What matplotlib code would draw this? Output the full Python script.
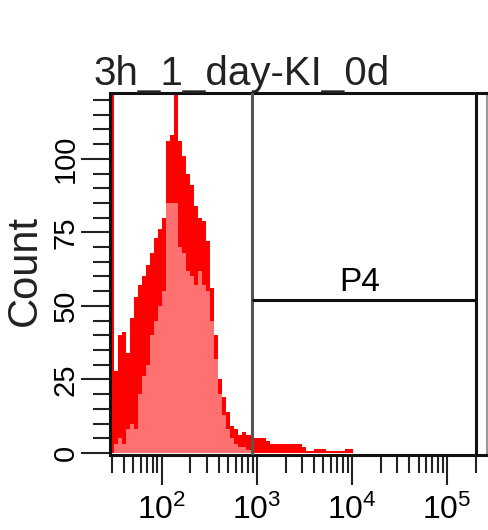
import matplotlib
matplotlib.use('Agg')
import matplotlib.pyplot as plt
import numpy as np
from matplotlib.ticker import LogLocator, FixedLocator, NullFormatter, MultipleLocator

plt.rcParams['font.family'] = ['Liberation Sans', 'DejaVu Sans']
plt.rcParams['mathtext.fontset'] = 'custom'
plt.rcParams['mathtext.rm'] = 'Liberation Sans'
plt.rcParams['mathtext.it'] = 'Liberation Sans'

title = "3h_1_day-KI_0d"
gate_name = "P4"

# histogram: per log-spaced channel group,
# the highest and lowest bin count inside the group
count_max = [300, 28, 40, 41, 34, 46, 53, 57, 60, 64, 68, 73, 76, 80, 106, 108,
             140, 106, 101, 95, 91, 84, 80, 79, 72, 56, 40, 25, 19, 14, 9, 8,
             6, 7, 6, 6, 5, 5, 5, 4, 3, 3, 3, 3, 3, 3, 3, 3,
             2, 0.5, 0.5, 1.5, 1.5, 1.5, 0.5, 0.5, 0.5, 0.5, 0.5, 1.5, 1.5, 0]
count_min = [0, 3, 5, 3, 8, 10, 8, 20, 26, 30, 40, 45, 50, 55, 85, 85,
             85, 70, 68, 62, 60, 57, 62, 57, 55, 45, 32, 20, 13, 8, 5, 3,
             2, 2, 1, 1, 0, 0, 0, 0, 0, 0, 0, 0, 0, 0, 0, 0,
             0, 0, 0, 0, 0, 0, 0, 0, 0, 0, 0, 0, 0, 0]
first_edge_log = 1.4544
bin_width_log = 0.04197

gate_x0, gate_x1 = 880, 201000
gate_y = 52
gate_label_pos = (12000, 55)

x_range = (28.5, 262144)
y_range = (-0.7, 122.4)
y_ticks = [0, 25, 50, 75, 100]
x_ticks = [1e2, 1e3, 1e4, 1e5]
x_ticklabels = ['$10^{2}$', '$10^{3}$', '$10^{4}$', '$10^{5}$']

edges = 10 ** (first_edge_log + bin_width_log * np.arange(len(count_max) + 1))

fig = plt.figure(figsize=(4.89, 5.30), dpi=100)
fig.patch.set_facecolor('white')
ax = fig.add_axes([110 / 489, 1 - 455 / 530, (487 - 110) / 489, (455 - 93) / 530])

ax.stairs(count_min, edges, baseline=0, fill=True, color='#FF7070', lw=0)
ax.stairs(count_max, edges, baseline=count_min, fill=True, color='#FF0000', lw=0)

ax.set_xscale('log')
ax.set_xlim(*x_range)
ax.set_ylim(*y_range)

# gate P4
ax.axvline(gate_x0, color='#555555', lw=2.2, zorder=4)
ax.axvline(gate_x1, color='#111111', lw=2.2, zorder=4)
ax.hlines(gate_y, gate_x0, gate_x1, color='#111111', lw=2.2, zorder=4)
ax.text(*gate_label_pos, gate_name, ha='center', va='baseline', fontsize=24)

# ticks
ax.xaxis.set_major_locator(FixedLocator(x_ticks))
ax.set_xticklabels(x_ticklabels)
ax.xaxis.set_minor_locator(LogLocator(base=10, subs=np.arange(2, 10), numticks=20))
ax.xaxis.set_minor_formatter(NullFormatter())
ax.set_yticks(y_ticks)
ax.yaxis.set_minor_locator(MultipleLocator(5))

ax.tick_params(axis='x', which='major', direction='out', length=21.6, width=1.5,
               labelsize=23, pad=7, color='#222222')
ax.tick_params(axis='x', which='minor', direction='out', length=13, width=1.5,
               color='#222222')
ax.tick_params(axis='y', which='major', direction='out', length=21, width=1.5,
               labelsize=21, pad=1, labelrotation=90, color='#222222')
ax.tick_params(axis='y', which='minor', direction='out', length=12, width=1.5,
               color='#222222')
for lbl in ax.get_yticklabels():
    lbl.set_va('center')

for side in ['top', 'left', 'bottom']:
    ax.spines[side].set_linewidth(2.2)
    ax.spines[side].set_color('#111111')
ax.spines['right'].set_linewidth(1.5)
ax.spines['right'].set_color('#999999')

fig.text(93 / 489, 1 - 85 / 530, title, fontsize=29, ha='left', va='baseline',
         color='#222222')
fig.text(25 / 489, 1 - 271 / 530, 'Count', rotation=90, fontsize=30,
         ha='center', va='center', color='#222222')

fig.savefig('out.png', dpi=100, facecolor='white')
